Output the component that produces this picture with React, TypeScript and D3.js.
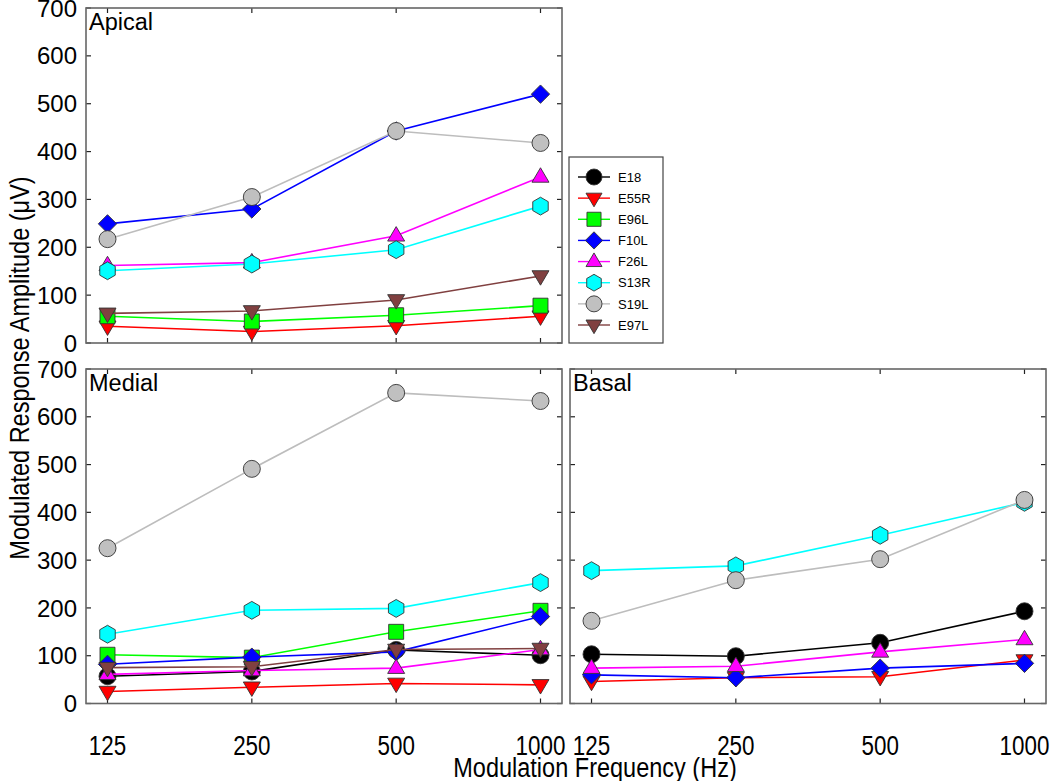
import React from "react";
import * as d3 from "d3";

const freqs = [125, 250, 500, 1000];
const yTicks = [0, 100, 200, 300, 400, 500, 600, 700];

const seriesNames = ["E18", "E55R", "E96L", "F10L", "F26L", "S13R", "S19L", "E97L"];
const seriesColors = ["#000000", "#ff0000", "#00ff00", "#0000ff", "#ff00ff", "#00ffff", "#c0c0c0", "#804040"];
const lineColors = ["#000000", "#ff0000", "#00ff00", "#0000ff", "#ff00ff", "#00ffff", "#bdbdbd", "#804040"];
const seriesShapes = ["circle", "triDown", "square", "diamond", "triUp", "hexagon", "circle", "triDown"];

// values per panel, in seriesNames order (null = not measured)
const apical: (number[] | null)[] = [
  null,
  [35, 24, 36, 56],
  [56, 45, 58, 78],
  [249, 280, 443, 520],
  [162, 168, 224, 347],
  [151, 165, 195, 286],
  [217, 305, 443, 418],
  [62, 67, 90, 140],
];
const medial: (number[] | null)[] = [
  [57, 67, 112, 101],
  [25, 34, 42, 39],
  [102, 96, 150, 194],
  [82, 97, 108, 182],
  [61, 69, 74, 113],
  [145, 195, 199, 253],
  [325, 491, 650, 633],
  [75, 77, 113, 115],
];
const basal: (number[] | null)[] = [
  [103, 99, 127, 193],
  [46, 54, 56, 91],
  null,
  [60, 54, 74, 84],
  [74, 78, 108, 134],
  [278, 288, 352, 421],
  [173, 258, 302, 426],
  null,
];

const SANS = "'Liberation Sans', Arial, sans-serif";
const NARROW_SCALE = 0.8;
const TITLE_SCALE = 0.84;

function markerPath(shape: string, s: number): string {
  switch (shape) {
    case "circle":
      return `M${-s},0A${s},${s} 0 1,0 ${s},0A${s},${s} 0 1,0 ${-s},0Z`;
    case "square": {
      const h = s * 0.88;
      return `M${-h},${-h}H${h}V${h}H${-h}Z`;
    }
    case "diamond": {
      const h = s * 1.08;
      return `M0,${-h}L${h},0L0,${h}L${-h},0Z`;
    }
    case "triDown": {
      const w = s * 1.0;
      return `M${-w},${-s * 0.62}L${w},${-s * 0.62}L0,${s * 1.08}Z`;
    }
    case "triUp": {
      const w = s * 1.0;
      return `M${-w},${s * 0.62}L${w},${s * 0.62}L0,${-s * 1.08}Z`;
    }
    case "hexagon": {
      const r = s * 1.05;
      const pts = d3.range(6).map((i) => {
        const a = (Math.PI / 3) * i - Math.PI / 2;
        return [r * Math.cos(a), r * Math.sin(a)];
      });
      return "M" + pts.map((p) => p.join(",")).join("L") + "Z";
    }
  }
  return "";
}

const pad = 0.149;

function Panel({ x0, x1, y0, y1, data, label, xLabels, yLabels }: any) {
  const x = d3
    .scaleLog()
    .base(2)
    .domain([125 * Math.pow(2, -pad), 1000 * Math.pow(2, pad)])
    .range([x0, x1]);
  const y = d3.scaleLinear().domain([0, 700]).range([y1, y0]);
  const line = d3
    .line<number>()
    .x((_, i) => x(freqs[i]))
    .y((v) => y(v));
  const tl = 5;
  return (
    <g>
      {freqs.map((f) => (
        <g key={"xt" + f}>
          <line x1={x(f)} x2={x(f)} y1={y1} y2={y1 - tl} stroke="#222" strokeWidth={1.2} />
          <line x1={x(f)} x2={x(f)} y1={y0} y2={y0 + tl} stroke="#222" strokeWidth={1.2} />
          {xLabels && (
            <text
              transform={`translate(${x(f)},${y1 + 51}) scale(${NARROW_SCALE},1)`}
              textAnchor="middle"
              fontFamily={SANS}
              fontSize={28}
              fill="#000"
            >
              {f}
            </text>
          )}
        </g>
      ))}
      {yTicks.map((t) => (
        <g key={"yt" + t}>
          <line x1={x0} x2={x0 + tl} y1={y(t)} y2={y(t)} stroke="#222" strokeWidth={1.2} />
          <line x1={x1} x2={x1 - tl} y1={y(t)} y2={y(t)} stroke="#222" strokeWidth={1.2} />
          {yLabels && (
            <text x={x0 - 9} y={y(t)} dy="0.36em" textAnchor="end" fontFamily={SANS} fontSize={24} fill="#000">
              {t}
            </text>
          )}
        </g>
      ))}
      <rect x={x0} y={y0} width={x1 - x0} height={y1 - y0} fill="none" stroke="#666" strokeWidth={1.6} />
      <text x={x0 + 3} y={y0 + 22} fontFamily={SANS} fontSize={23.5} fill="#000">
        {label}
      </text>
      {data.map((vals: number[] | null, si: number) =>
        vals ? (
          <g key={"s" + si}>
            <path d={line(vals) || ""} fill="none" stroke={lineColors[si]} strokeWidth={1.6} />
            {vals.map((v, i) => (
              <path
                key={i}
                d={markerPath(seriesShapes[si], 8.5)}
                transform={`translate(${x(freqs[i])},${y(v)})`}
                fill={seriesColors[si]}
                stroke="#333"
                strokeWidth={0.9}
              />
            ))}
          </g>
        ) : null
      )}
    </g>
  );
}

function Legend({ x0, y0, w, h }: any) {
  const rowY = d3.scaleLinear().domain([0, 7]).range([y0 + 20, y0 + 168]);
  return (
    <g>
      <rect x={x0} y={y0} width={w} height={h} fill="#fff" stroke="#444" strokeWidth={1.2} />
      {seriesNames.map((n, i) => (
        <g key={n} transform={`translate(0,${rowY(i)})`}>
          <line x1={x0 + 9} x2={x0 + 41} y1={0} y2={0} stroke={lineColors[i]} strokeWidth={1.4} />
          <path
            d={markerPath(seriesShapes[i], 8)}
            transform={`translate(${x0 + 25},0)`}
            fill={seriesColors[i]}
            stroke="#333"
            strokeWidth={0.9}
          />
          <text x={x0 + 49} y={0} dy="0.36em" fontFamily={SANS} fontSize={13} fill="#000">
            {n}
          </text>
        </g>
      ))}
    </g>
  );
}

export default function App() {
  return (
    <svg width={1050} height={781} style={{ position: "absolute", left: 0, top: 0, background: "#fff" }}>
      <rect x={0} y={0} width={1050} height={781} fill="#fff" />
      <Panel x0={86} x1={562} y0={8} y1={343} data={apical} label="Apical" xLabels={false} yLabels={true} />
      <Panel x0={86} x1={562} y0={369} y1={703.5} data={medial} label="Medial" xLabels={true} yLabels={true} />
      <Panel x0={570} x1={1046} y0={369} y1={703.5} data={basal} label="Basal" xLabels={true} yLabels={false} />
      <Legend x0={569} y0={157} w={94} h={186} />
      <text
        transform={`translate(29,368) rotate(-90) scale(${TITLE_SCALE},1)`}
        textAnchor="middle"
        fontFamily={SANS}
        fontSize={28}
        fill="#000"
      >
        Modulated Response Amplitude (μV)
      </text>
      <text
        transform={`translate(595,777) scale(${TITLE_SCALE},1)`}
        textAnchor="middle"
        fontFamily={SANS}
        fontSize={28}
        fill="#000"
      >
        Modulation Frequency (Hz)
      </text>
    </svg>
  );
}
